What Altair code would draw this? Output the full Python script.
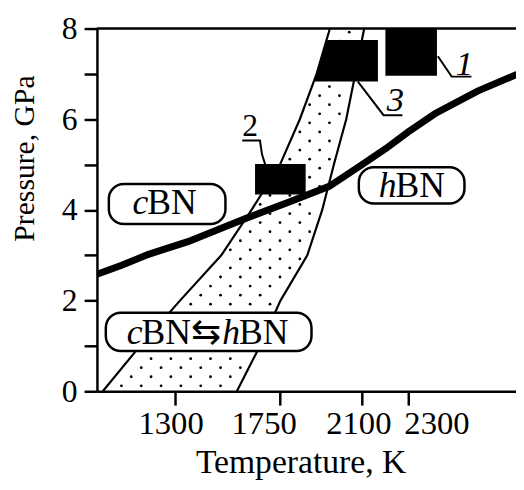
import altair as alt
import pandas as pd
import numpy as np

FONT = "Liberation Serif"

# ---- axes ----
T_DOMAIN = [965, 2762]
P_DOMAIN = [0, 8]
x_ticks = [1300, 1750, 2100, 2300]
x_tick_labels = ["1300", "1750", "2100", "2300"]
x_tick_label_T = [1283, 1682, 2088, 2423]
x_tick_label_P = [-0.95, -0.95, -0.95, -0.95]
y_ticks = [0, 1, 2, 3, 4, 5, 6, 7, 8]

# ---- cBN/hBN equilibrium line ----
line_T = [965, 1071, 1186, 1355, 1597, 1792, 1961, 2097, 2203, 2300, 2414, 2597, 2762]
line_P = [2.58, 2.78, 3.02, 3.30, 3.80, 4.18, 4.52, 4.98, 5.35, 5.72, 6.12, 6.62, 6.98]

# ---- cBN <-> hBN transition band ----
band_P = [0, 1, 2, 3, 4, 5, 6, 7, 8]
band_left_T = [990, 1150, 1321, 1498, 1628, 1750, 1835, 1907, 1964]
band_right_T = [1565, 1664, 1752, 1867, 1931, 1981, 2034, 2073, 2111]

# ---- experimental regions 1, 2, 3 (black blocks) ----
blk_id = ["1", "1", "2", "2", "3", "3"]
blk_P = [6.96, 8.0, 4.34, 5.01, 6.83, 7.75]
blk_T_left = [2202, 2202, 1643, 1643, 1897, 1953]
blk_T_right = [2423, 2423, 1860, 1860, 2170, 2170]

# ---- leader lines for labels 1, 2, 3 ----
lead_id = ["1", "1", "1", "3", "3", "3", "2", "2", "2", "2"]
lead_seq = [0, 1, 2, 0, 1, 2, 0, 1, 2, 3]
lead_T = [2427, 2486, 2571, 2084, 2194, 2275, 1588, 1664, 1673, 1686]
lead_P = [7.39, 6.94, 6.94, 6.83, 6.09, 6.09, 5.53, 5.53, 5.22, 5.01]

num_text = ["1", "3"]
num_T = [2541, 2245]
num_P = [6.98, 6.18]
num2_text = ["2"]
num2_T = [1622]
num2_P = [5.64]

# ---- phase label boxes ----
box_T0 = [1016, 2088, 1003]
box_T1 = [1516, 2541, 1885]
box_P0 = [3.69, 4.14, 0.89]
box_P1 = [4.57, 4.94, 1.73]

ital_text = ["c", "h", "c", "h"]
ital_T = [1181, 2245, 1156, 1574]
ital_P = [3.90, 4.29, 1.04, 1.04]
norm_text = ["BN", "BN", "BN⇆", "BN"]
norm_T = [1181, 2245, 1156, 1574]
norm_P = [3.90, 4.29, 1.04, 1.04]

# ---- stipple texture inside band ----
dots = []
rows = np.arange(0.12, 8.0, 0.2)
for i, p in enumerate(rows):
    lo = np.interp(p, band_P, band_left_T)
    hi = np.interp(p, band_P, band_right_T)
    t = 900 + (i % 2) * 42
    while t < 2300:
        if lo + 18 < t < hi - 18:
            dots.append({"T": t, "P": p})
        t += 85
dots_df = pd.DataFrame(dots)

x_scale = alt.Scale(domain=T_DOMAIN, nice=False, zero=False)
y_scale = alt.Scale(domain=P_DOMAIN, nice=False, zero=False)

line_df = pd.DataFrame({"T": line_T, "P": line_P})
bound_df = pd.DataFrame({
    "P": band_P + band_P,
    "T": band_left_T + band_right_T,
    "side": ["L"] * len(band_P) + ["R"] * len(band_P),
})
blk_df = pd.DataFrame({"id": blk_id, "P": blk_P, "L": blk_T_left, "R": blk_T_right})
lead_df = pd.DataFrame({"id": lead_id, "seq": lead_seq, "T": lead_T, "P": lead_P})
box_df = pd.DataFrame({"T0": box_T0, "T1": box_T1, "P0": box_P0, "P1": box_P1})
ital_df = pd.DataFrame({"t": ital_text, "T": ital_T, "P": ital_P})
norm_df = pd.DataFrame({"t": norm_text, "T": norm_T, "P": norm_P})
num_df = pd.DataFrame({"t": num_text, "T": num_T, "P": num_P})
num2_df = pd.DataFrame({"t": num2_text, "T": num2_T, "P": num2_P})
xlab_df = pd.DataFrame({"t": x_tick_labels, "T": x_tick_label_T, "P": x_tick_label_P})

X = alt.X("T:Q", scale=x_scale, axis=alt.Axis(
    values=x_ticks, labels=False, tickSize=14, tickWidth=2.5, domainWidth=2.5,
    tickColor="black", domainColor="black", grid=False,
    title="Temperature, K", titleFont=FONT, titleFontSize=34, titleFontWeight="normal",
    titleColor="black", titleX=206, titleY=82, titleAlign="center",
    titleBaseline="alphabetic"))
Y = alt.Y("P:Q", scale=y_scale, axis=alt.Axis(
    values=y_ticks, labelExpr="datum.value % 2 == 0 ? datum.label : ''",
    tickSize=13, tickWidth=2.5, domainWidth=2.5, tickColor="black",
    domainColor="black", grid=False, labelFont=FONT, labelFontSize=32,
    labelColor="black", labelPadding=7,
    title="Pressure, GPa", titleFont=FONT, titleFontSize=30, titleFontWeight="normal",
    titleColor="black", titleX=-64, titleY=131, titleAlign="center",
    titleBaseline="alphabetic", titleAngle=270))

base_x = alt.X("T:Q", scale=x_scale)
base_y = alt.Y("P:Q", scale=y_scale)

axes = alt.Chart(line_df).mark_point(opacity=0).encode(x=X, y=Y)

top_rule = alt.Chart(pd.DataFrame({"a": [0]})).mark_rule(
    color="black", strokeWidth=2.5).encode(
    x=alt.datum(T_DOMAIN[0]), x2=alt.datum(T_DOMAIN[1]), y=alt.datum(P_DOMAIN[1]))

dots_layer = alt.Chart(dots_df).mark_circle(color="black", size=8, opacity=1, clip=True).encode(
    x=base_x, y=base_y)

bounds = alt.Chart(bound_df).mark_line(color="black", strokeWidth=2.2, clip=True).encode(
    x=base_x, y=base_y, detail="side:N", order="P:Q")

blocks = alt.Chart(blk_df).mark_area(orient="horizontal", color="black", opacity=1, clip=True).encode(
    y=alt.Y("P:Q", scale=y_scale), x=alt.X("L:Q", scale=x_scale), x2="R:Q", detail="id:N")

eq_line = alt.Chart(line_df).mark_line(color="black", strokeWidth=7, strokeCap="round", clip=True).encode(
    x=base_x, y=base_y, order="T:Q")

boxes = alt.Chart(box_df).mark_rect(fill="white", stroke="black", strokeWidth=2.5,
                                    cornerRadius=15).encode(
    x=alt.X("T0:Q", scale=x_scale), x2="T1:Q", y=alt.Y("P0:Q", scale=y_scale), y2="P1:Q")

ital = alt.Chart(ital_df).mark_text(font=FONT, fontSize=36, fontStyle="italic", align="right",
                                    baseline="alphabetic", color="black", dx=1).encode(
    x=base_x, y=base_y, text="t:N")
norm = alt.Chart(norm_df).mark_text(font=FONT, fontSize=36, align="left",
                                    baseline="alphabetic", color="black").encode(
    x=base_x, y=base_y, text="t:N")

leaders = alt.Chart(lead_df).mark_line(color="black", strokeWidth=2).encode(
    x=base_x, y=base_y, detail="id:N", order="seq:Q")

nums = alt.Chart(num_df).mark_text(font=FONT, fontSize=35, fontStyle="italic", align="center",
                                   baseline="alphabetic", color="black").encode(
    x=base_x, y=base_y, text="t:N")
nums2 = alt.Chart(num2_df).mark_text(font=FONT, fontSize=32, align="center",
                                     baseline="alphabetic", color="black").encode(
    x=base_x, y=base_y, text="t:N")

xlabels = alt.Chart(xlab_df).mark_text(font=FONT, fontSize=33, align="center",
                                       baseline="alphabetic", color="black").encode(
    x=base_x, y=base_y, text="t:N")

chart = alt.layer(
    axes, dots_layer, bounds, blocks, eq_line, boxes, ital, norm, leaders, nums, nums2,
    xlabels, top_rule
).properties(
    width=424, height=367,
    padding={"left": 90, "top": 18, "right": 0, "bottom": 89},
    autosize=alt.AutoSizeParams(type="none"),
    background="white",
).configure_view(stroke=None)

chart.save("out.html", embed_options={"renderer": "svg", "actions": False})
